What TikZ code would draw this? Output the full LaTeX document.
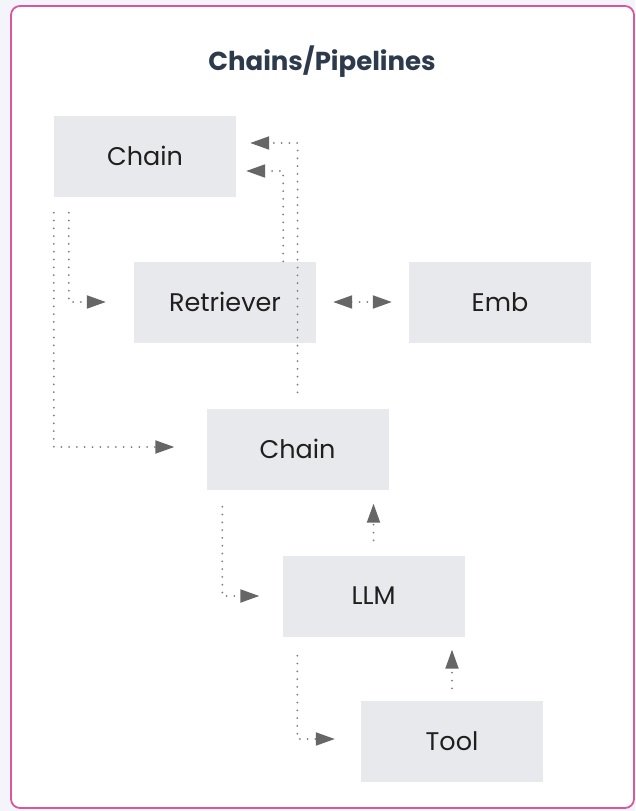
\documentclass[tikz,border=0pt]{standalone}
\usepackage{fontspec}
\setmainfont{Poppins}
\usetikzlibrary{arrows.meta,calc}
\definecolor{bgout}{HTML}{F4F5FA}
\definecolor{frame}{HTML}{D9579A}
\definecolor{boxfill}{HTML}{E8E9EC}
\definecolor{titlec}{HTML}{2C3A4C}
\definecolor{dotc}{HTML}{7E7E7E}
\definecolor{tipc}{HTML}{666666}
\tikzset{
  blk/.style={fill=boxfill, minimum width=182pt, minimum height=81pt, inner sep=0pt, font=\fontsize{25.5}{30}\selectfont, text=black!88},
  dotline/.style={draw=dotc, line width=2pt, line cap=round, dash pattern=on 0pt off 7.8pt},
  conn/.style={dotline, -{Triangle[length=19pt,width=13pt,fill=tipc,color=tipc]}},
  conn2/.style={dotline, {Triangle[length=19pt,width=13pt,fill=tipc,color=tipc]}-{Triangle[length=19pt,width=13pt,fill=tipc,color=tipc]}}
}
\begin{document}
\begin{tikzpicture}[x=1pt,y=-1pt]
\useasboundingbox (0,0) rectangle (635,811);
\fill[bgout] (0,0) rectangle (635,811);
\draw[frame, line width=1.8pt, fill=white, rounded corners=9pt] (11,6) rectangle (634,808);
\node[font=\fontsize{26}{31}\selectfont\bfseries, text=titlec] (title) at (322,62) {Chains/Pipelines};
\node[blk] (c1) at (145,156) {Chain};
\node[blk] (r) at (225,302) {Retriever};
\node[blk] (e) at (500,302) {Emb};
\node[blk] (c2) at (297.5,449) {Chain};
\node[blk] (l) at (373.5,596) {LLM};
\node[blk] (t) at (452,741) {Tool};
% Chain1 -> Chain2
\draw[conn] ([yshift=-16pt]c1.south west) |- ([xshift=-32pt,yshift=2pt]c2.west);
% Chain1 -> Retriever
\draw[conn] ([xshift=15pt,yshift=-16pt]c1.south west) |- ([xshift=-28pt]r.west);
% Retriever -> Chain1
\draw[conn] ([xshift=-33pt]r.north east) |- ([xshift=10pt,yshift=-15pt]c1.east);
% Chain2 -> Chain1
\draw[conn] ([yshift=16pt]c2.north) |- ([xshift=14pt,yshift=13pt]c1.east);
% Retriever <-> Emb
\draw[conn2] ([xshift=17pt]r.east) -- ([xshift=-17pt]e.west);
% Chain2 -> LLM
\draw[conn] ([xshift=16pt,yshift=-17pt]c2.south west) |- ([xshift=-23pt]l.west);
% LLM -> Chain2
\draw[conn] ([yshift=15pt]l.north) -- ($(l.north |- c2.south)+(0,14)$);
% LLM -> Tool
\draw[conn] ([xshift=15pt,yshift=-19pt]l.south west) |- ([xshift=-26pt,yshift=2pt]t.west);
% Tool -> LLM
\draw[conn] ([yshift=12pt]t.north) -- ($(t.north |- l.south)+(0,13)$);
\end{tikzpicture}
\end{document}
